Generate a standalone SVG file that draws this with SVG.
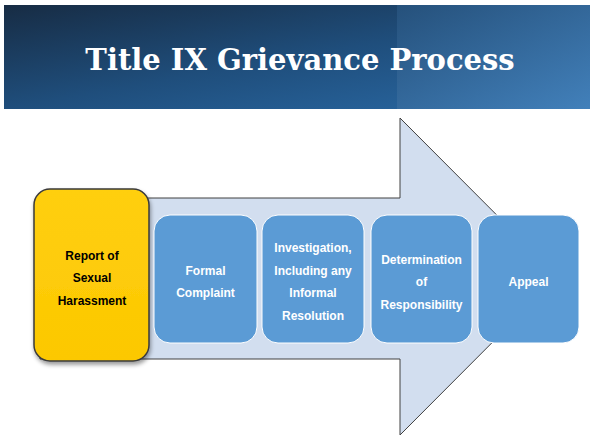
<svg xmlns="http://www.w3.org/2000/svg" width="590" height="437" viewBox="0 0 590 437">
<defs>
<linearGradient id="bg" x1="0" y1="0" x2="1" y2="1">
<stop offset="0" stop-color="#172c44"/>
<stop offset="0.5" stop-color="#1f4e7c"/>
<stop offset="1" stop-color="#2a6aa6"/>
</linearGradient>
<linearGradient id="bg2" x1="0" y1="0" x2="1" y2="1">
<stop offset="0" stop-color="#27537e"/>
<stop offset="1" stop-color="#4684be"/>
</linearGradient>
<linearGradient id="yel" x1="0" y1="0" x2="0" y2="1">
<stop offset="0" stop-color="#ffcf10"/>
<stop offset="1" stop-color="#fcc800"/>
</linearGradient>
<filter id="sh" x="-20%" y="-20%" width="140%" height="140%">
<feDropShadow dx="1" dy="3" stdDeviation="2" flood-color="#000" flood-opacity="0.4"/>
</filter>
<style>
.box{fill:#5b9bd5;stroke:#ffffff;stroke-width:1}
.t{font-family:"Liberation Sans",Arial,sans-serif;font-size:12px;font-weight:bold;fill:#ffffff;text-anchor:middle}
.tk{fill:#000000}
</style>
</defs>
<rect width="590" height="437" fill="#ffffff"/>
<rect x="4" y="5" width="586" height="104" fill="url(#bg)"/>
<rect x="397" y="5" width="193" height="104" fill="url(#bg2)" opacity="0.85"/>
<text x="300" y="70" text-anchor="middle" font-family="'DejaVu Serif','Liberation Serif',serif" font-weight="bold" font-size="29" fill="#ffffff">Title IX Grievance Process</text>
<g id="connectors">
<path d="M40,198 L400,198 L400,118 L558,276.5 L400,435 L400,359 L40,359 Z" fill="#d2deef" stroke="#404040" stroke-width="1"/>
</g>
<g id="report">
<rect x="34" y="189" width="115" height="172" rx="16" fill="url(#yel)" stroke="#3a3a3a" stroke-width="1.5" filter="url(#sh)"/>
<text class="t tk" x="92" y="260">Report of</text>
<text class="t tk" x="92" y="282">Sexual</text>
<text class="t tk" x="92" y="305">Harassment</text>
</g>
<g id="formal">
<rect class="box" x="154" y="215" width="103" height="128" rx="16"/>
<text class="t" x="205.5" y="275">Formal</text>
<text class="t" x="205.5" y="297">Complaint</text>
</g>
<g id="investigation">
<rect class="box" x="262" y="215" width="102" height="128" rx="16"/>
<text class="t" x="313" y="252">Investigation,</text>
<text class="t" x="313" y="275">Including any</text>
<text class="t" x="313" y="297">Informal</text>
<text class="t" x="313" y="320">Resolution</text>
</g>
<g id="determination">
<rect class="box" x="371" y="215" width="101" height="128" rx="16"/>
<text class="t" x="421.5" y="264">Determination</text>
<text class="t" x="421.5" y="286">of</text>
<text class="t" x="421.5" y="309">Responsibility</text>
</g>
<g id="appeal">
<rect class="box" x="478" y="215" width="101" height="128" rx="16"/>
<text class="t" x="528.5" y="286">Appeal</text>
</g>
</svg>
